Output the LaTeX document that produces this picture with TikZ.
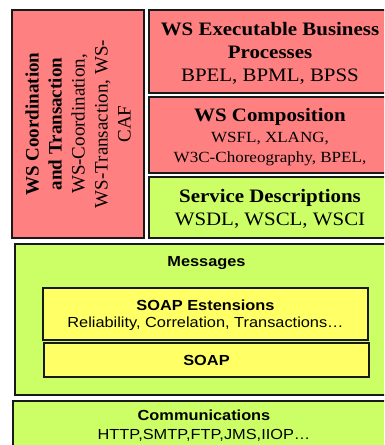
\documentclass[tikz,border=0pt]{standalone}
\usepackage{fontspec}
\setmainfont{Liberation Serif}
\newfontfamily\wideserif[FakeStretch=1.1]{Liberation Serif}
\newfontfamily\arialfont[FakeStretch=1.12]{Liberation Sans}
\definecolor{wsred}{HTML}{FF8080}
\definecolor{wsgreen}{HTML}{CCFF66}
\definecolor{wsyellow}{HTML}{FFFF66}
\tikzstyle{layer}=[rectangle,draw=black!90,line width=1.2pt,inner sep=0pt,align=center,text depth=0pt]
\tikzstyle{redLayer}=[layer,fill=wsred,font=\wideserif\fontsize{19}{23}\selectfont]
\tikzstyle{greenLayer}=[layer,fill=wsgreen,font=\wideserif\fontsize{19}{23}\selectfont]
\tikzstyle{sansLayer}=[layer,fill=wsgreen,font=\arialfont\fontsize{14.6}{19}\selectfont]
\tikzstyle{soapLayer}=[layer,fill=wsyellow,minimum width=325pt,font=\arialfont\fontsize{14.6}{17}\selectfont]
\newcommand{\smallserif}{\fontsize{15.5}{20}\selectfont}

\begin{document}
\begin{tikzpicture}[x=1pt,y=-1pt]
		\useasboundingbox (0,0) rectangle (384,445);
		\clip (0,0) rectangle (384,445);
		\node at (78,124) [redLayer,font=\rmfamily\fontsize{19}{23}\selectfont,rotate=90,minimum width=228pt,minimum height=132pt] (coord) {\textbf{WS Coordination}\\\textbf{and Transaction}\\WS-Coordination,\\WS-Transaction, WS-\\CAF};
		\node at (270,51.5) [redLayer,minimum width=242pt,minimum height=83pt] (exec) {\textbf{WS Executable Business}\\\textbf{Processes}\\BPEL, BPML, BPSS};
		\node at (270,135) [redLayer,minimum width=242pt,minimum height=76pt] (comp) {\textbf{WS Composition}\\[-2pt]{\smallserif WSFL, XLANG,}\\[-3pt]{\smallserif W3C-Choreography, BPEL,}};
		\node at (270,207.5) [greenLayer,minimum width=242pt,minimum height=61pt] (serv) {\textbf{Service Descriptions}\\WSDL, WSCL, WSCI};
		\node at (206.5,319.5) [sansLayer,minimum width=383pt,minimum height=151pt] (msgs) {};
		\node at (206.5,263) [font=\arialfont\fontsize{14.6}{17}\selectfont] (msgtitle) {\textbf{Messages}};
		\node at (205.5,314) [soapLayer,minimum height=52pt] (soapext) {\textbf{SOAP Estensions}\\Reliability, Correlation, Transactions\ldots};
		\node at (206.5,360) [soapLayer,minimum height=34pt] (soap) {\textbf{SOAP}};
		\node at (204,425) [sansLayer,minimum width=382pt,minimum height=48pt] (comm) {\textbf{Communications}\\HTTP,SMTP,FTP,JMS,IIOP\ldots};
		\end{tikzpicture}
\end{document}
